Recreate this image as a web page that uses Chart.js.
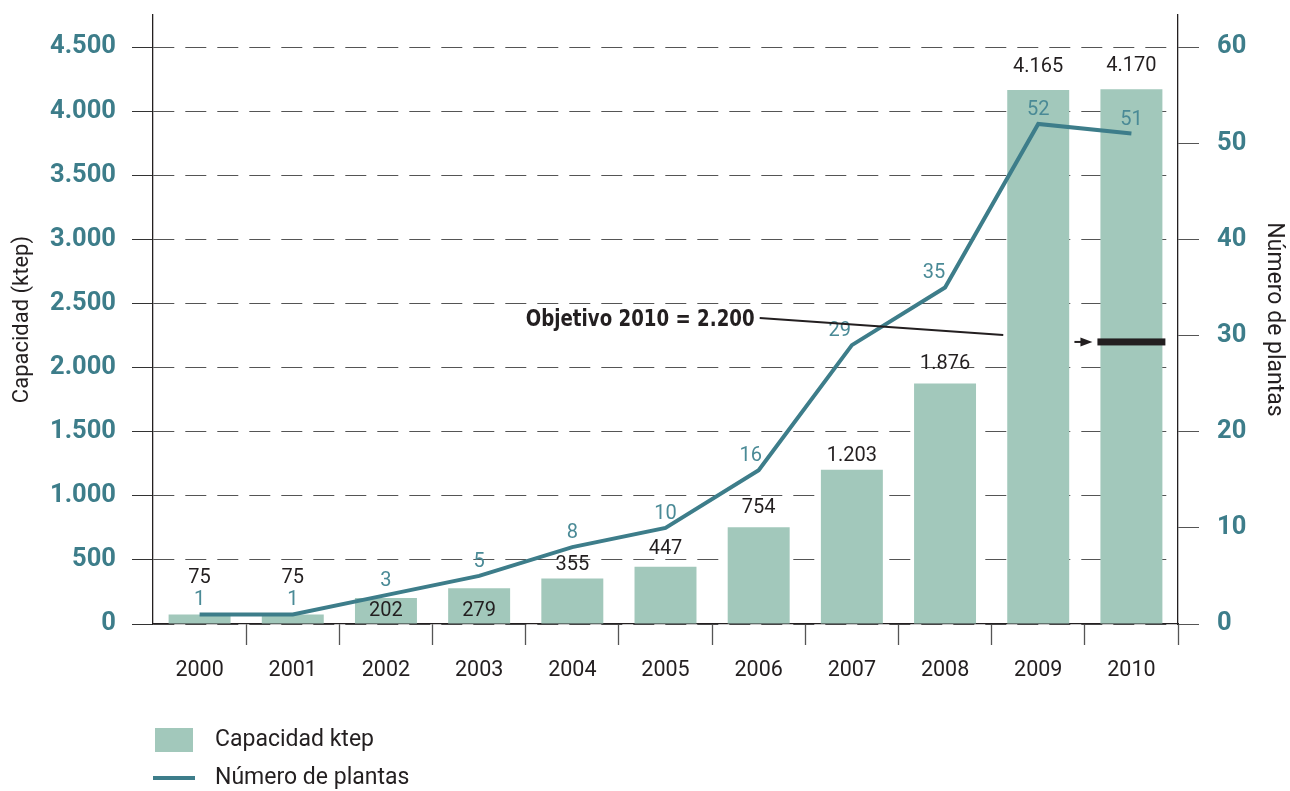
<!DOCTYPE html>
<html>
<head>
<meta charset="utf-8">
<script src="https://cdn.jsdelivr.net/npm/chart.js@4/dist/chart.umd.min.js"></script>
<style>
  html, body { margin: 0; padding: 0; background: #fff; }
  #wrap { position: relative; width: 1290px; height: 791px; }
  canvas { display: block; }
  .leg { position: absolute; font: 23px Roboto, sans-serif; color: #231f20; line-height: 26px; }
  .sw { position: absolute; }
</style>
</head>
<body>
<div id="wrap">
  <canvas id="chart" width="1290" height="791"></canvas>
  <div class="sw" style="left:155px;top:728px;width:38px;height:24px;background:#a2c8bb"></div>
  <div class="leg" style="left:215px;top:726px">Capacidad ktep</div>
  <div class="sw" style="left:153px;top:776px;width:42px;height:4px;background:#3d7d8a"></div>
  <div class="leg" style="left:215px;top:764px">Número de plantas</div>
</div>
<script>
// Data
const years = ["2000", "2001", "2002", "2003", "2004", "2005", "2006", "2007", "2008", "2009", "2010"];
const capacidad = [75, 75, 202, 279, 355, 447, 754, 1203, 1876, 4165, 4170];
const plantas = [1, 1, 3, 5, 8, 10, 16, 29, 35, 52, 51];
const leftTicks = [0, 500, 1000, 1500, 2000, 2500, 3000, 3500, 4000, 4500];
const rightTicks = [0, 10, 20, 30, 40, 50, 60];
const objetivo = 2200;
const objetivoLabel = "Objetivo 2010 = 2.200";

// label nudges (px): bar values (some sit inside the bar), line values on steep parts
const barLabelDy = [-36, -36, 13, 23, -13, -18, -19, -14, -19, -23, -23];
const lineLabelDx = [0, 0, 0, 0, 0, 0, -8, -12, -11, 0, 0];

const TEAL = "#3d7d8a";
const TEAL_TXT = "#4a8a96";
const DARK = "#231f20";

function fmt(v) {
  return String(v).replace(/\B(?=(\d{3})+(?!\d))/g, ".");
}

const labelPlugin = {
  id: "valueLabels",
  afterDatasetsDraw(chart) {
    const ctx = chart.ctx;
    const xs = chart.scales.x;
    const ys = chart.scales.y;
    const bars = chart.getDatasetMeta(0).data;
    const pts = chart.getDatasetMeta(1).data;
    ctx.save();
    ctx.textAlign = "center";
    ctx.textBaseline = "middle";

    // bar values
    ctx.font = "20px Roboto, sans-serif";
    ctx.fillStyle = DARK;
    bars.forEach((b, i) => ctx.fillText(fmt(capacidad[i]), b.x, b.y + barLabelDy[i]));

    // line values
    ctx.fillStyle = TEAL_TXT;
    pts.forEach((p, i) => ctx.fillText(String(plantas[i]), p.x + lineLabelDx[i], p.y - 14));

    // target marker on the 2010 bar
    const ty = ys.getPixelForValue(objetivo);
    const last = bars[bars.length - 1];
    const half = last.width / 2 + 3;
    ctx.fillStyle = DARK;
    ctx.fillRect(last.x - half, ty - 3.5, half * 2, 7);

    // small arrow pointing at it
    const tip = last.x - half - 5;
    ctx.beginPath();
    ctx.moveTo(tip, ty);
    ctx.lineTo(tip - 12, ty - 4.5);
    ctx.lineTo(tip - 12, ty + 4.5);
    ctx.closePath();
    ctx.fill();
    ctx.fillRect(tip - 18, ty - 1, 8, 2);

    // annotation text (condensed) and leader line
    const tx = xs.getPixelForValue(6);
    ctx.save();
    ctx.translate(tx - 4, ty - 22);
    ctx.scale(0.88, 1);
    ctx.font = 'bold 23px "Liberation Sans Narrow", "DejaVu Sans Condensed", sans-serif';
    ctx.textAlign = "right";
    ctx.fillText(objetivoLabel, 0, 0);
    ctx.restore();
    const prev = bars[bars.length - 2];
    ctx.strokeStyle = DARK;
    ctx.lineWidth = 2;
    ctx.beginPath();
    ctx.moveTo(tx + 1, ty - 24);
    ctx.lineTo(prev.x - prev.width / 2 - 4, ty - 7);
    ctx.stroke();
    ctx.restore();
  }
};

const chart = new Chart(document.getElementById("chart"), {
  type: "bar",
  data: {
    labels: years,
    datasets: [
      {
        type: "bar",
        label: "Capacidad ktep",
        data: capacidad,
        backgroundColor: "#a2c8bb",
        yAxisID: "y",
        categoryPercentage: 1,
        barPercentage: 0.665,
        order: 1
      },
      {
        type: "line",
        label: "Número de plantas",
        data: plantas,
        borderColor: TEAL,
        borderWidth: 4,
        pointRadius: 0,
        tension: 0,
        yAxisID: "y1",
        order: 0
      }
    ]
  },
  options: {
    responsive: false,
    animation: false,
    devicePixelRatio: 1,
    layout: { padding: { top: 15, left: 0, right: 0, bottom: 0 } },
    plugins: {
      legend: { display: false },
      tooltip: { enabled: false }
    },
    scales: {
      x: {
        offset: true,
        grid: {
          offset: true,
          drawOnChartArea: false,
          tickLength: 21,
          tickWidth: 1.3,
          tickColor: (c) => (c.index === 0 || c.index === years.length ? "rgba(0,0,0,0)" : "#555")
        },
        border: { color: DARK, width: 1.3 },
        ticks: { color: DARK, font: { family: "Roboto", size: 21.5 }, padding: 13 },
        afterFit: (s) => { s.height = 167; }
      },
      y: {
        position: "left",
        min: 0,
        max: 4750,
        afterBuildTicks: (s) => { s.ticks = leftTicks.map((v) => ({ value: v })); },
        ticks: {
          callback: (v) => fmt(v),
          color: TEAL,
          font: { family: "Roboto", size: 25.5, weight: "bold" },
          padding: 16
        },
        grid: { color: "#555", lineWidth: 1, tickLength: 21, tickColor: "#333" },
        border: { color: DARK, width: 1.3, dash: [21, 11] },
        title: {
          display: true,
          text: "Capacidad (ktep)",
          color: DARK,
          font: { family: "Roboto", size: 22 },
          padding: { top: 9, bottom: 0 }
        },
        afterFit: (s) => { s.width = 153; s.paddingTop = 0; s.paddingBottom = 0; }
      },
      y1: {
        position: "right",
        min: 0,
        max: 4750 / 75,
        afterBuildTicks: (s) => { s.ticks = rightTicks.map((v) => ({ value: v })); },
        ticks: {
          color: TEAL,
          font: { family: "Roboto", size: 25.5, weight: "bold" },
          padding: 18
        },
        grid: { drawOnChartArea: false, tickLength: 21, tickColor: "#555" },
        border: { color: DARK, width: 1.3 },
        title: {
          display: true,
          text: "Número de plantas",
          color: DARK,
          font: { family: "Roboto", size: 23 },
          padding: { top: 2, bottom: 0 }
        },
        afterFit: (s) => { s.width = 112; s.paddingTop = 0; s.paddingBottom = 0; }
      }
    }
  },
  plugins: [labelPlugin]
});
</script>
</body>
</html>
